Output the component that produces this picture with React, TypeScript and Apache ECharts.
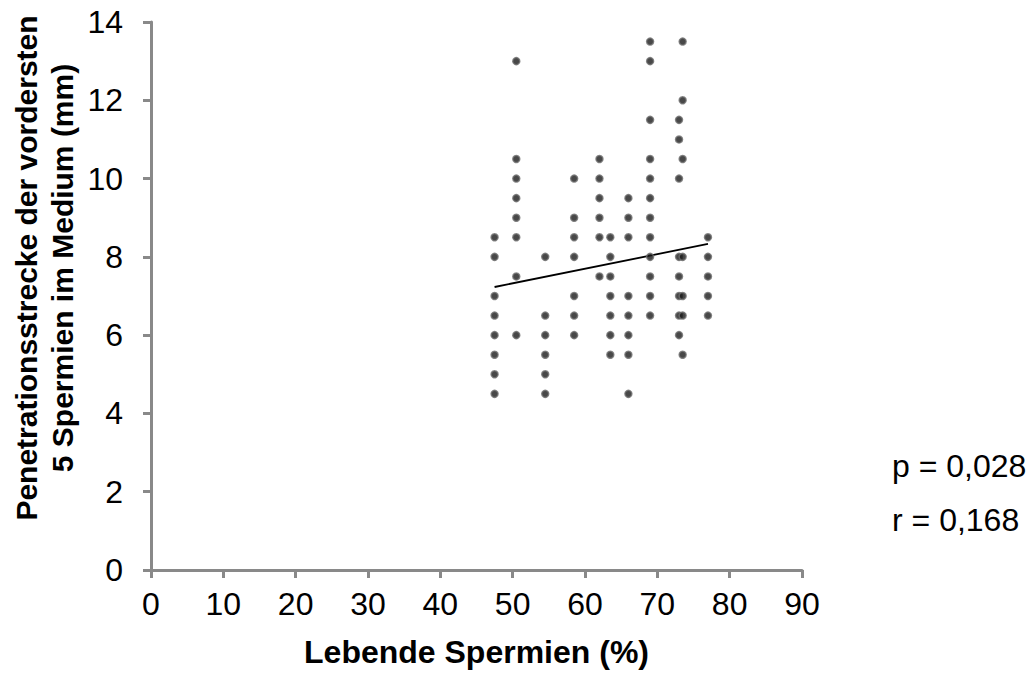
import React, { useEffect, useRef } from "react";
import * as echarts from "echarts";

const xTicks = [0, 10, 20, 30, 40, 50, 60, 70, 80, 90];
const yTicks = [0, 2, 4, 6, 8, 10, 12, 14];

const col475 = [8.5, 8, 7, 6.5, 6, 5.5, 5, 4.5];
const col505 = [13, 10.5, 10, 9.5, 9, 8.5, 7.5, 6];
const col545 = [8, 6.5, 6, 5.5, 5, 4.5];
const col585 = [10, 9, 8.5, 8, 7, 6.5, 6];
const col62 = [10.5, 10, 9.5, 9, 8.5, 7.5];
const col635 = [8.5, 8, 7.5, 7, 6.5, 6, 5.5];
const col66 = [9.5, 9, 8.5, 7, 6.5, 6, 5.5, 4.5];
const col69 = [13.5, 13, 11.5, 10.5, 10, 9.5, 9, 8.5, 8, 7.5, 7, 6.5];
const col73 = [11.5, 11, 10, 8, 7.5, 7, 6.5, 6];
const col735 = [13.5, 12, 10.5, 8, 7, 6.5, 5.5];
const col77 = [8.5, 8, 7.5, 7, 6.5];

const columns: [number, number[]][] = [
  [47.5, col475],
  [50.5, col505],
  [54.5, col545],
  [58.5, col585],
  [62, col62],
  [63.5, col635],
  [66, col66],
  [69, col69],
  [73, col73],
  [73.5, col735],
  [77, col77],
];

const trendX = [47.5, 77];
const trendY = [7.23, 8.33];

const xTitle = "Lebende Spermien (%)";
const yTitle = "Penetrationsstrecke der vordersten\n5 Spermien im Medium (mm)";
const statsText = ["p = 0,028", "r = 0,168"];

export default function App() {
  const ref = useRef<HTMLDivElement>(null);
  useEffect(() => {
    document.body.style.margin = "0";
    const chart = echarts.init(ref.current!, null, { renderer: "svg" });
    const points: number[][] = [];
    columns.forEach(([x, ys]) => ys.forEach((y) => points.push([x, y])));
    const font = "Arial, 'Liberation Sans', sans-serif";
    chart.setOption({
      animation: false,
      backgroundColor: "#ffffff",
      grid: {
        left: 151,
        top: 22,
        width: 651,
        height: 548,
        containLabel: false,
        outerBoundsMode: "none",
      },
      xAxis: {
        type: "value",
        min: xTicks[0],
        max: xTicks[xTicks.length - 1],
        interval: 10,
        name: xTitle,
        nameLocation: "middle",
        nameGap: 66,
        nameTextStyle: { fontFamily: font, fontSize: 32, fontWeight: "bold", color: "#000" },
        axisLine: { show: true, lineStyle: { color: "#898989", width: 3 } },
        axisTick: { show: true, length: 8, lineStyle: { color: "#898989", width: 3 } },
        axisLabel: { fontFamily: font, fontSize: 32, color: "#000", margin: 18 },
        splitLine: { show: false },
      },
      yAxis: {
        type: "value",
        min: yTicks[0],
        max: yTicks[yTicks.length - 1],
        interval: 2,
        axisLine: { show: true, lineStyle: { color: "#898989", width: 3 } },
        axisTick: { show: true, length: 8, lineStyle: { color: "#898989", width: 3 } },
        axisLabel: { fontFamily: font, fontSize: 32, color: "#000", margin: 28 },
        splitLine: { show: false },
      },
      series: [
        {
          type: "scatter",
          data: points,
          symbol: "circle",
          symbolSize: 7,
          itemStyle: { color: "#1a1a1a", borderColor: "#6e6e6e", borderWidth: 1.5 },
          z: 3,
        },
        {
          type: "line",
          data: trendX.map((x, i) => [x, trendY[i]]),
          symbol: "none",
          lineStyle: { color: "#000", width: 1.8 },
          z: 2,
        },
      ],
      graphic: [
        {
          type: "text",
          x: 44,
          y: 268,
          rotation: Math.PI / 2,
          style: {
            text: yTitle,
            fontFamily: font,
            fontSize: 30,
            fontWeight: "bold",
            fill: "#000",
            lineHeight: 36,
            align: "center",
            verticalAlign: "middle",
          },
        },
        ...statsText.map((t, i) => ({
          type: "text",
          x: 892,
          y: 466 + i * 54,
          style: {
            text: t,
            fontFamily: font,
            fontSize: 32,
            fill: "#000",
            align: "left",
            verticalAlign: "middle",
          },
        })),
      ],
    });
    return () => chart.dispose();
  }, []);
  return <div ref={ref} style={{ width: 1033, height: 675 }} />;
}
